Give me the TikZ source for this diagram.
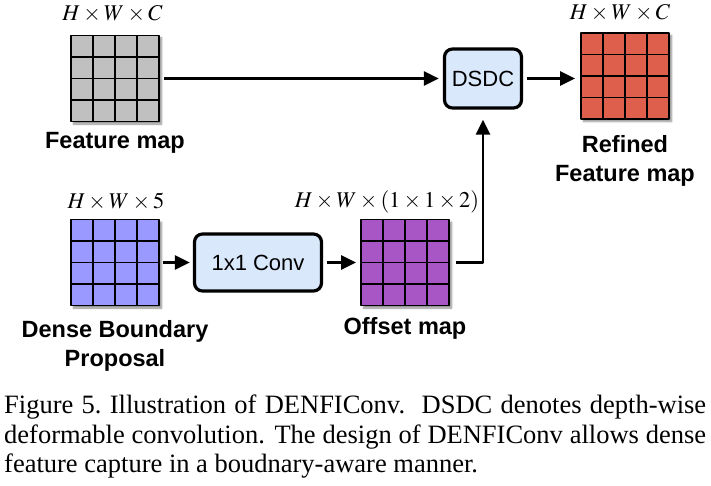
\documentclass[tikz,border=0pt]{standalone}
\usepackage{mathptmx}
\usepackage{fontspec}
\setmainfont{Liberation Serif}
\setsansfont{Liberation Sans}
\usetikzlibrary{positioning,calc,arrows.meta,shadows.blur}

\definecolor{fmgray}{HTML}{C0C0C0}
\definecolor{dbpblue}{HTML}{9999FF}
\definecolor{offpurple}{HTML}{A855C5}
\definecolor{refred}{HTML}{DE604C}
\definecolor{boxblue}{HTML}{DAE8FC}

\tikzset{
  fmap/.style={draw=black, line width=1.3pt, minimum width=88pt, minimum height=86pt,
    inner sep=0pt, outer sep=0pt,
    blur shadow={shadow xshift=2.5pt, shadow yshift=-2.5pt, shadow blur steps=6, shadow opacity=45}},
  opbox/.style={draw=black, line width=3.2pt, rounded corners=8pt, fill=boxblue, inner sep=0pt,
    font=\sffamily\fontsize{22}{26}\selectfont},
  dimlbl/.style={inner sep=0pt, text depth=0pt, font=\fontsize{22.5}{27}\selectfont},
  maplbl/.style={inner sep=0pt, align=center, font=\sffamily\bfseries\fontsize{23.5}{29}\selectfont},
  conn/.style={line width=2.8pt, -{Triangle[length=15pt,width=14pt]}}
}

% 4x4 cell lines inside a map node
\newcommand{\mapgrid}[1]{%
  \foreach \k in {1,2,3} {
    \draw[line width=1.3pt] ($(#1.north west)!\k/4!(#1.north east)$) -- ($(#1.south west)!\k/4!(#1.south east)$);
    \draw[line width=1.3pt] ($(#1.north west)!\k/4!(#1.south west)$) -- ($(#1.north east)!\k/4!(#1.south east)$);
  }}

\begin{document}
\begin{tikzpicture}[x=1pt, y=-1pt, line join=round]

\useasboundingbox (0,0) rectangle (711,486);

% maps
\node[fmap, fill=fmgray] (fm) at (115,78.5) {};
\node[fmap, fill=dbpblue] (dbp) at (115,262.5) {};
\node[fmap, fill=offpurple] (off) at (405,262.5) {};
\node[fmap, fill=refred] (ref) at (625,76) {};
\mapgrid{fm}
\mapgrid{dbp}
\mapgrid{off}
\mapgrid{ref}

% operations
\node[opbox, minimum width=77pt, minimum height=59pt] (dsdc) at (483,78.5) {DSDC};
\node[opbox, minimum width=127pt, minimum height=57pt] (conv) at (258,262.5) {1x1 Conv};

% sizes
\node[dimlbl, above=15pt of fm, xshift=-2.5pt] (fmdim) {$H\times W\times C$};
\node[dimlbl, above=13.5pt of ref, xshift=-5pt] (refdim) {$H\times W\times C$};
\node[dimlbl, above=11pt of dbp, xshift=1pt] (dbpdim) {$H\times W\times 5$};
\node[dimlbl, above=12pt of off, xshift=-18pt] (offdim) {$H\times W\times (1\times 1\times 2)$};

% names
\node[maplbl, anchor=base] (fmtxt) at ([yshift=-27pt]fm.south) {Feature map};
\node[maplbl, below=16pt of ref] (reftxt) {Refined\\Feature map};
\node[maplbl, below=15pt of dbp] (dbptxt) {Dense Boundary\\Proposal};
\node[maplbl, anchor=base] (offtxt) at ([yshift=-29pt]off.south) {Offset map};

% connections
\draw[conn, shorten <=5pt, shorten >=4pt] (fm.east) -- (dsdc.west);
\draw[conn, shorten <=4pt, shorten >=6pt] (dsdc.east) -- (dsdc.east -| ref.west);
\draw[conn, shorten <=4pt, shorten >=3pt] (dbp.east) -- (conv.west);
\draw[conn, shorten <=4pt, shorten >=5pt] (conv.east) -- (off.west);
\draw[conn, shorten <=7pt, shorten >=10pt] (off.east) -| (dsdc.south);

% caption
\node[inner sep=0pt, anchor=north west, text width=702pt, align=justify,
  font=\rmfamily\fontsize{26.5}{29.5}\selectfont] (cap) at (4,395)
  {\hyphenpenalty=10000 Figure 5.\ Illustration of DENFIConv.\ \ DSDC denotes depth-wise\linebreak
   deformable convolution. The design of DENFIConv allows dense\linebreak
   feature capture in a boudnary-aware manner.};

\end{tikzpicture}
\end{document}
